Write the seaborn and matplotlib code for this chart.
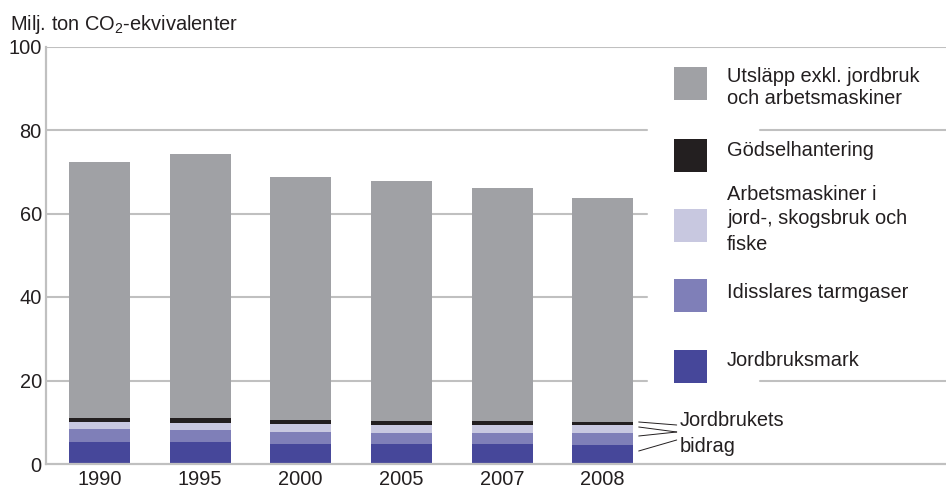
import matplotlib
matplotlib.use("Agg")
import matplotlib.pyplot as plt
from matplotlib.patches import Rectangle
import numpy as np
import pandas as pd
import seaborn as sns

sns.set_theme(style="white")
plt.rcParams["font.family"] = ["Liberation Sans", "DejaVu Sans"]
plt.rcParams["mathtext.fontset"] = "custom"
plt.rcParams["mathtext.rm"] = "Liberation Sans"
plt.rcParams["mathtext.it"] = "Liberation Sans"

# Emissions, million tonnes CO2-equivalents (stacked bottom to top)
years = ["1990", "1995", "2000", "2005", "2007", "2008"]
jordbruksmark = [5.3, 5.25, 4.9, 4.8, 4.8, 4.55]
idisslare = [3.05, 2.9, 2.75, 2.65, 2.65, 2.9]
arbetsmaskiner = [1.7, 1.7, 1.9, 1.9, 1.9, 1.9]
godsel = [0.95, 1.05, 0.95, 0.95, 0.95, 0.7]
ovrigt = [61.3, 63.35, 58.2, 57.6, 55.9, 53.75]

series_names = [
    "Jordbruksmark",
    "Idisslares tarmgaser",
    "Arbetsmaskiner i jord-, skogsbruk och fiske",
    "Gödselhantering",
    "Utsläpp exkl. jordbruk och arbetsmaskiner",
]
series_values = [jordbruksmark, idisslare, arbetsmaskiner, godsel, ovrigt]
colors = ["#46479a", "#7f7fb8", "#c8c8e0", "#231f20", "#a0a1a5"]
yticks = [0, 20, 40, 60, 80, 100]

TXT = "#231f20"
GRID = "#c0c0c0"
W, H = 946, 488

df = pd.DataFrame({"År": years})
cum = np.zeros(len(years))
for name, vals in zip(series_names, series_values):
    cum = cum + np.array(vals)
    df[name] = cum.copy()

fig = plt.figure(figsize=(W / 100, H / 100), dpi=100)
ax = fig.add_axes([46 / W, 24 / H, 900 / W, (464 - 46.5) / H])

def fx(px):
    return (px - 46) / 900

# gridlines, interrupted where the legend sits
for t in yticks[1:]:
    if t == 100:
        ax.axhline(t, color=GRID, lw=1.5, zorder=0)
    elif t in (20, 80):
        ax.axhline(t, xmin=0, xmax=fx(647), color=GRID, lw=1.5, zorder=0)
        ax.axhline(t, xmin=fx(760), xmax=1, color=GRID, lw=1.5, zorder=0)
    else:
        ax.axhline(t, xmin=0, xmax=fx(647), color=GRID, lw=1.5, zorder=0)

# stacked bars: draw cumulative totals from the top down
for name, col in reversed(list(zip(series_names, colors))):
    sns.barplot(data=df, x="År", y=name, color=col, saturation=1,
                width=0.606, linewidth=0, edgecolor="none", ax=ax, zorder=2)

ax.set_ylim(0, 100)
ax.set_xlim(-0.53, 8.41)
ax.set_xlabel("")
ax.set_ylabel("")
ax.set_yticks(yticks)
ax.set_yticklabels([str(t) for t in yticks])
ax.tick_params(axis="both", length=0, labelsize=14.4, colors=TXT)
ax.tick_params(axis="y", pad=3)
ax.tick_params(axis="x", pad=4)
for s in ["top", "right"]:
    ax.spines[s].set_visible(False)
for s in ["left", "bottom"]:
    ax.spines[s].set_color(GRID)
    ax.spines[s].set_linewidth(1.6)
ax.spines["bottom"].set_zorder(3)

fig.text(10 / W, 1 - 24 / H, r"Milj. ton CO$_\mathregular{2}$-ekvivalenter",
         fontsize=14.4, color=TXT, va="center", ha="left")

# legend
leg_items = [
    (colors[4], 66.7, ["Utsläpp exkl. jordbruk", "och arbetsmaskiner"], [76.7, 98]),
    (colors[3], 139, ["Gödselhantering"], [151]),
    (colors[2], 209, ["Arbetsmaskiner i", "jord-, skogsbruk och", "fiske"], [194, 219, 244]),
    (colors[1], 279, ["Idisslares tarmgaser"], [292]),
    (colors[0], 350, ["Jordbruksmark"], [360]),
]
for col, top, lines, ys in leg_items:
    fig.patches.append(Rectangle((674 / W, 1 - (top + 33) / H), 33 / W, 33 / H,
                                 transform=fig.transFigure, facecolor=col,
                                 edgecolor="none", zorder=3))
    for line, y in zip(lines, ys):
        fig.text(727 / W, 1 - y / H, line, fontsize=14.4, color=TXT,
                 ha="left", va="center")

# leader lines to the agricultural part of the last bar
def px2data(px, py):
    xd = 5 + (px - 603) / 100.7
    yd = (464 - py) / 4.175
    return xd, yd

leaders = [((639, 422), (677, 425)), ((639, 427), (677, 432)),
           ((639, 436), (677, 432)), ((639, 451), (677, 440))]
for (x0, y0), (x1, y1) in leaders:
    a = px2data(x0, y0)
    b = px2data(x1, y1)
    ax.plot([a[0], b[0]], [a[1], b[1]], color=TXT, lw=0.7, clip_on=False, zorder=4)
fig.text(680 / W, 1 - 421 / H, "Jordbrukets", fontsize=14.4, color=TXT,
         ha="left", va="center")
fig.text(680 / W, 1 - 447 / H, "bidrag", fontsize=14.4, color=TXT,
         ha="left", va="center")

fig.savefig("out.png", dpi=100)
